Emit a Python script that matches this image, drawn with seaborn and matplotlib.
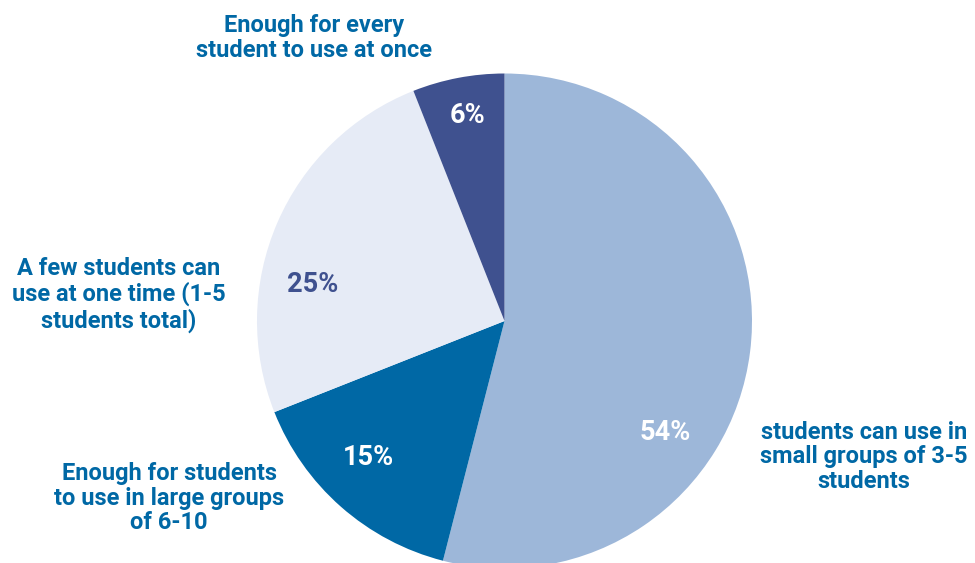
import matplotlib
matplotlib.use("Agg")
import matplotlib.pyplot as plt
import seaborn as sns
import numpy as np

categories = [
    "students can use in\nsmall groups of 3-5\nstudents",
    "Enough for students\nto use in large groups\nof 6-10",
    "A few students can\nuse at one time (1-5\nstudents total)",
    "Enough for every\nstudent to use at once",
]
values = [54, 15, 25, 6]
pct_labels = ["54%", "15%", "25%", "6%"]
colors = ["#9db7d9", "#0068a5", "#e6ebf6", "#3f518f"]
pct_colors = ["white", "white", "#3f518f", "white"]

sns.set_theme(style="white")
plt.rcParams["font.family"] = ["Roboto", "DejaVu Sans"]

W, H = 975, 563
fig = plt.figure(figsize=(W / 100, H / 100), dpi=100)
ax = fig.add_axes([0, 0, 1, 1])

cx, cy, r = 504.5, H - 321, 247.5
wedges, _ = ax.pie(values, colors=colors, startangle=90, counterclock=False,
                   center=(cx, cy), radius=r, wedgeprops=dict(linewidth=0),
                   frame=True)
ax.set_xlim(0, W)
ax.set_ylim(0, H)
ax.axis("off")

# percent label positions (angle in degrees, distance fraction of radius)
pct_pos = [(-34.6, 0.79), (-135.0, 0.78), (169.3, 0.79), (100.2, 0.845)]
for lab, col, (ang, d) in zip(pct_labels, pct_colors, pct_pos):
    a = np.deg2rad(ang)
    ax.text(cx + d * r * np.cos(a), cy + d * r * np.sin(a), lab,
            ha="center", va="center", fontsize=19.5, fontweight="bold", color=col)

label_color = "#0068a5"
label_pos = [(864, H - 457), (169, H - 498), (119, H - 295), (314, H - 38)]
for txt, (x, y) in zip(categories, label_pos):
    ax.text(x, y, txt, ha="center", va="center", fontsize=17,
            fontweight="bold", color=label_color, linespacing=1.1)

fig.savefig("out.png", dpi=100)
